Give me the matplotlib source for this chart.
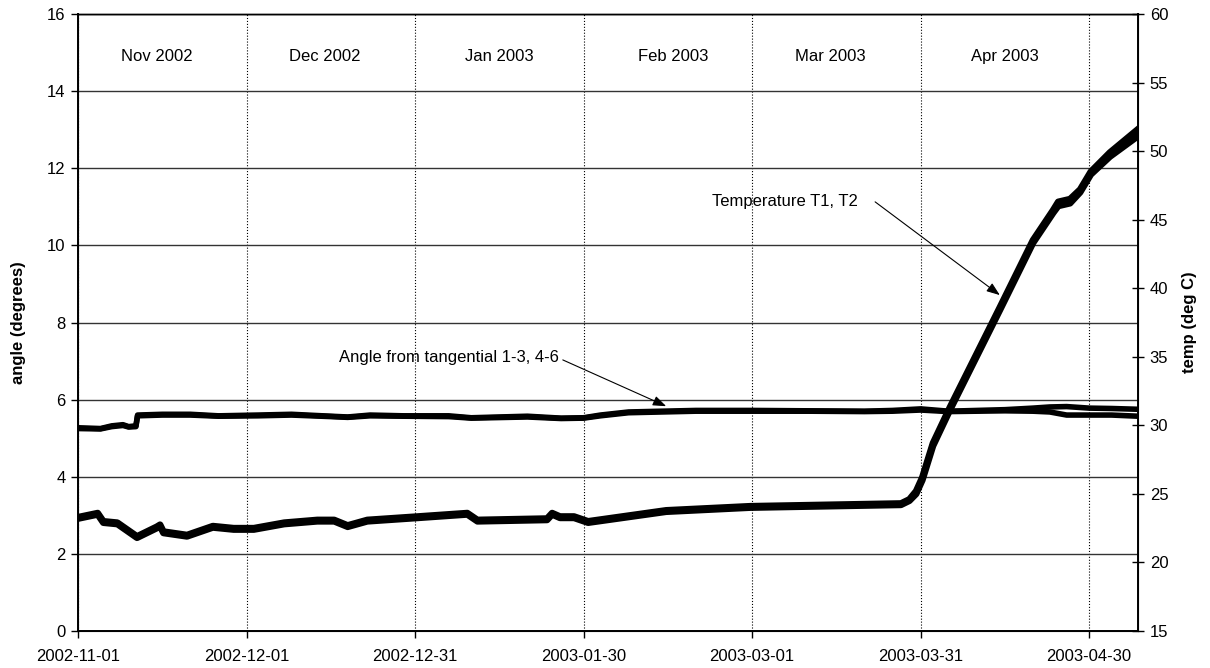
import numpy as np
import pandas as pd
import matplotlib
matplotlib.use('Agg')
import matplotlib.pyplot as plt
import matplotlib.dates as mdates

plt.rcParams['font.family'] = ['Liberation Sans', 'DejaVu Sans']

START = pd.Timestamp('2002-11-01')
END_DAY = 188.7

# angle from tangential (left axis), days since 2002-11-01
angle_days = [0, 4, 6, 8, 9, 10.3, 10.6, 15, 20, 25, 32, 38, 45, 48, 52, 58, 66, 70,
              80, 86, 90, 93, 98, 110, 120, 130, 140, 145, 150, 155, 160,
              165, 170, 173, 176, 180, 184, 188.7]
angle_13 = [5.27, 5.25, 5.32, 5.35, 5.3, 5.32, 5.6, 5.62, 5.62, 5.58, 5.6, 5.62, 5.57, 5.55, 5.6, 5.58, 5.58, 5.53,
            5.57, 5.52, 5.53, 5.6, 5.68, 5.72, 5.72, 5.71, 5.7, 5.72, 5.76, 5.7, 5.72,
            5.74, 5.78, 5.81, 5.82, 5.78, 5.77, 5.75]
angle_46 = [5.25, 5.24, 5.3, 5.33, 5.29, 5.3, 5.58, 5.6, 5.6, 5.57, 5.58, 5.6, 5.56, 5.54, 5.58, 5.57, 5.56, 5.52,
            5.55, 5.51, 5.52, 5.58, 5.66, 5.7, 5.7, 5.7, 5.69, 5.7, 5.73, 5.69, 5.7,
            5.71, 5.7, 5.68, 5.6, 5.6, 5.6, 5.57]

# temperature (right axis)
temp_days = [0, 3.5, 4.5, 7, 10.5, 14, 14.6, 15.2, 19.4, 24, 27.7, 31.3, 36.7, 42.6, 45.6,
             48, 51.5, 60.5, 69.3, 71.1, 83.5, 84.4, 85.8, 88.3, 90.8, 104.7, 119.7,
             146.5, 148.0, 149.2, 150.3, 152.2, 155.2, 164.1, 170.0, 173.6, 174.5, 176.6,
             178.4, 180.3, 183.7, 188.7]
temp_t1 = [23.3, 23.6, 23.0, 22.9, 21.9, 22.6, 22.75, 22.25, 22.0, 22.65, 22.5, 22.5, 22.9, 23.1, 23.1,
           22.7, 23.1, 23.35, 23.6, 23.1, 23.2, 23.6, 23.35, 23.35, 23.0, 23.8, 24.1,
           24.3, 24.6, 25.2, 26.2, 28.7, 31.3, 38.6, 43.5, 45.7, 46.3, 46.5,
           47.2, 48.5, 49.9, 51.6]
temp_t2 = [23.2, 23.5, 22.9, 22.8, 21.8, 22.5, 22.65, 22.15, 21.9, 22.55, 22.4, 22.4, 22.8, 23.0, 23.0,
           22.6, 23.0, 23.25, 23.5, 23.0, 23.1, 23.5, 23.25, 23.25, 22.9, 23.7, 24.0,
           24.2, 24.5, 25.0, 26.0, 28.5, 31.1, 38.4, 43.3, 45.5, 46.0, 46.2,
           47.0, 48.3, 49.6, 51.1]

month_labels = ['Nov 2002', 'Dec 2002', 'Jan 2003', 'Feb 2003', 'Mar 2003', 'Apr 2003']
month_mid = ['2002-11-15', '2002-12-15', '2003-01-15', '2003-02-15', '2003-03-15', '2003-04-15']
tick_dates = ['2002-11-01', '2002-12-01', '2002-12-31', '2003-01-30',
              '2003-03-01', '2003-03-31', '2003-04-30']


def to_dates(days):
    return START + pd.to_timedelta(np.array(days), unit='D')


fig = plt.figure(figsize=(12.1, 6.68), dpi=100)
ax = fig.add_axes([0.0645, 0.0554, 0.876, 0.9236])
ax2 = ax.twinx()

ax.plot(to_dates(angle_days), angle_13, color='black', lw=4, solid_joinstyle='round')
ax.plot(to_dates(angle_days), angle_46, color='black', lw=4, solid_joinstyle='round')
ax2.plot(to_dates(temp_days), temp_t1, color='black', lw=4.8, solid_joinstyle='round')
ax2.plot(to_dates(temp_days), temp_t2, color='black', lw=4.8, solid_joinstyle='round')

ax.set_xlim(START, START + pd.Timedelta(days=END_DAY))
ax.set_ylim(0, 16)
ax.set_yticks(np.arange(0, 17, 2))
ax2.set_ylim(15, 60)
ax2.set_yticks(np.arange(15, 61, 5))

ax.set_xticks(pd.to_datetime(tick_dates))
ax.xaxis.set_major_formatter(mdates.DateFormatter('%Y-%m-%d'))

ax.grid(axis='y', color='#333333', lw=1.0)
ax.grid(axis='x', color='black', lw=0.8, linestyle=':')
ax.set_axisbelow(True)

ax.tick_params(axis='both', labelsize=12, direction='out', length=5, width=1, colors='black')
ax.tick_params(axis='x', pad=8)
ax.tick_params(axis='y', pad=4)
ax2.tick_params(axis='y', labelsize=12, direction='inout', length=9, width=1, pad=4)

for sp in ['left', 'bottom']:
    ax.spines[sp].set_linewidth(1.4)
ax2.spines['right'].set_linewidth(1.4)
ax.spines['top'].set_linewidth(1.0)
ax2.spines['top'].set_linewidth(1.0)

ax.set_ylabel('angle (degrees)', fontsize=12, fontweight='bold')
ax.yaxis.set_label_coords(-0.049, 0.5)
ax2.set_ylabel('temp (deg C)', fontsize=12, fontweight='bold')
ax2.yaxis.set_label_coords(1.0415, 0.5)

for lab, mid in zip(month_labels, month_mid):
    ax.text(pd.Timestamp(mid), 14.9, lab, fontsize=12, ha='center', va='center')

arrow = dict(arrowstyle='-|>,head_length=0.8,head_width=0.3', color='black', lw=0.8,
             shrinkA=0, shrinkB=0, mutation_scale=10)

ax.text(START + pd.Timedelta(days=85.6), 7.08, 'Angle from tangential 1-3, 4-6',
        fontsize=12, ha='right', va='center')
ax.annotate('', xy=(START + pd.Timedelta(days=104.7), 5.83),
            xytext=(START + pd.Timedelta(days=86.3), 7.03), arrowprops=arrow)

ax2.text(START + pd.Timedelta(days=138.9), 46.3, 'Temperature T1, T2',
         fontsize=12, ha='right', va='center')
ax2.annotate('', xy=(START + pd.Timedelta(days=164.1), 39.5),
             xytext=(START + pd.Timedelta(days=141.9), 46.3), arrowprops=arrow)

fig.savefig('out.png', dpi=100)
